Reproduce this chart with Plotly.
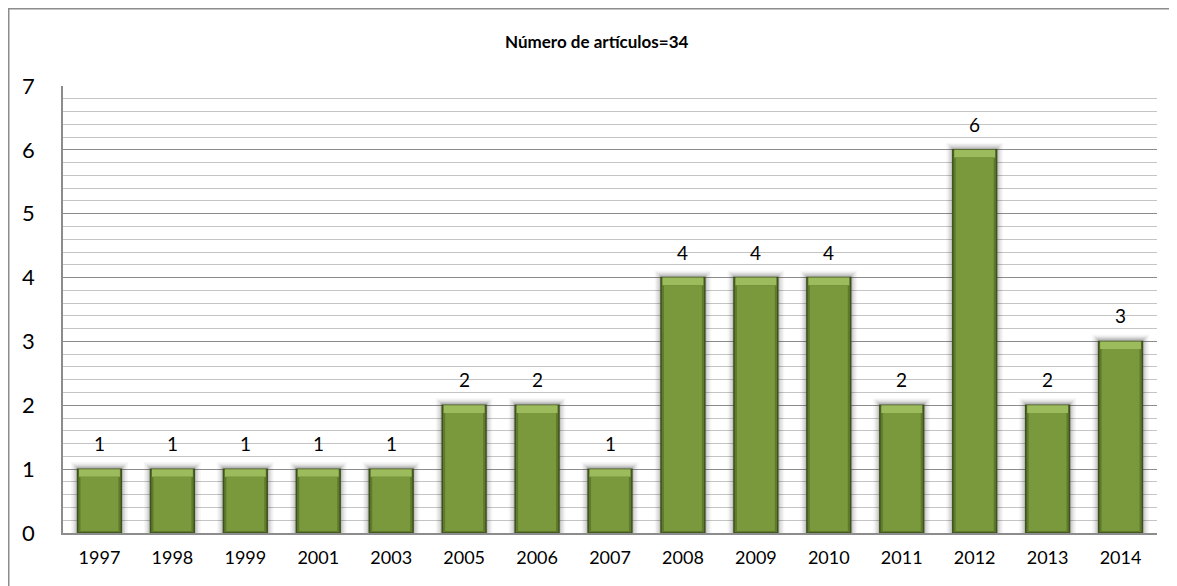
import plotly.graph_objects as go

years = ["1997", "1998", "1999", "2001", "2003", "2005", "2006", "2007",
         "2008", "2009", "2010", "2011", "2012", "2013", "2014"]
counts = [1, 1, 1, 1, 1, 2, 2, 1, 4, 4, 4, 2, 6, 2, 3]
title_text = "Número de artículos=34"

# the page adds an 8px body margin, so the figure is drawn from (8, 8)
W, H = 1169, 578
L, R, T, B = 55, 20, 78, 53
pw, ph = W - L - R, H - T - B

FONT = "Lato"
fig = go.Figure()

# soft shadow layers
for w, op, dy in [(0.78, 0.04, 0.11), (0.74, 0.06, 0.09), (0.70, 0.08, 0.07),
                  (0.66, 0.11, 0.05), (0.63, 0.14, 0.03)]:
    fig.add_trace(go.Bar(x=years, y=[c + dy for c in counts], width=w,
                         marker=dict(color=f"rgba(50,50,50,{op})", line=dict(width=0)),
                         hoverinfo="skip", showlegend=False))

# outer (dark edge) bar
fig.add_trace(go.Bar(x=years, y=counts, width=0.6,
                     marker=dict(color="#5E7A2C", line=dict(color="#3F521D", width=1.5)),
                     showlegend=False))
# top bevel highlight
bev = 0.12
fig.add_trace(go.Bar(x=years, y=[bev] * len(counts), base=[c - bev for c in counts], width=0.56,
                     marker=dict(color="#9CBB5C", line=dict(width=0)),
                     hoverinfo="skip", showlegend=False))
# inner face
fig.add_trace(go.Bar(x=years, y=[c - bev - 0.03 for c in counts], base=[0.03] * len(counts),
                     width=0.52,
                     marker=dict(color="#7A993D", line=dict(width=0)),
                     hoverinfo="skip", showlegend=False))

annotations = []
for i, c in enumerate(counts):
    annotations.append(dict(x=i, y=c, xref="x", yref="y", text=str(c), showarrow=False,
                            yanchor="bottom", yshift=12,
                            font=dict(family=FONT, size=19, color="#000000")))

def px2x(p):
    return (p - L) / pw

def px2y(p):
    return (H - B - p) / ph

annotations.append(dict(x=px2x(589), y=px2y(33), xref="paper", yref="paper",
                        text="<b>" + title_text + "</b>", showarrow=False,
                        xanchor="center", yanchor="middle",
                        font=dict(family=FONT, size=17, color="#000000")))

shapes = [
    dict(type="line", xref="paper", yref="paper", x0=px2x(0), x1=px2x(W + 20), y0=px2y(0), y1=px2y(0),
         line=dict(color="#8C8C8C", width=3)),
    dict(type="line", xref="paper", yref="paper", x0=px2x(0), x1=px2x(0), y0=px2y(0), y1=px2y(H + 20),
         line=dict(color="#8C8C8C", width=3)),
]

fig.update_layout(
    width=W, height=H,
    margin=dict(l=L, r=R, t=T, b=B),
    paper_bgcolor="white", plot_bgcolor="white",
    barmode="overlay",
    bargap=0.4,
    annotations=annotations,
    shapes=shapes,
    font=dict(family=FONT, color="#000000"),
)
fig.update_xaxes(type="category", showline=True, linecolor="#8C8C8C", linewidth=1.5,
                 ticks="", tickfont=dict(family=FONT, size=18, color="#000"),
                 ticklabelstandoff=8, showgrid=False, zeroline=False)
fig.update_yaxes(range=[0, 7], dtick=1, tick0=0, showline=True, linecolor="#8C8C8C", linewidth=1.5,
                 showgrid=True, gridcolor="#8C8C8C", gridwidth=1.2,
                 minor=dict(dtick=0.2, tick0=0, showgrid=True, gridcolor="#C4C4C4", gridwidth=1),
                 ticks="", tickfont=dict(family=FONT, size=22, color="#000"),
                 ticklabelstandoff=22, zeroline=False)

fig.write_html("out.html")
